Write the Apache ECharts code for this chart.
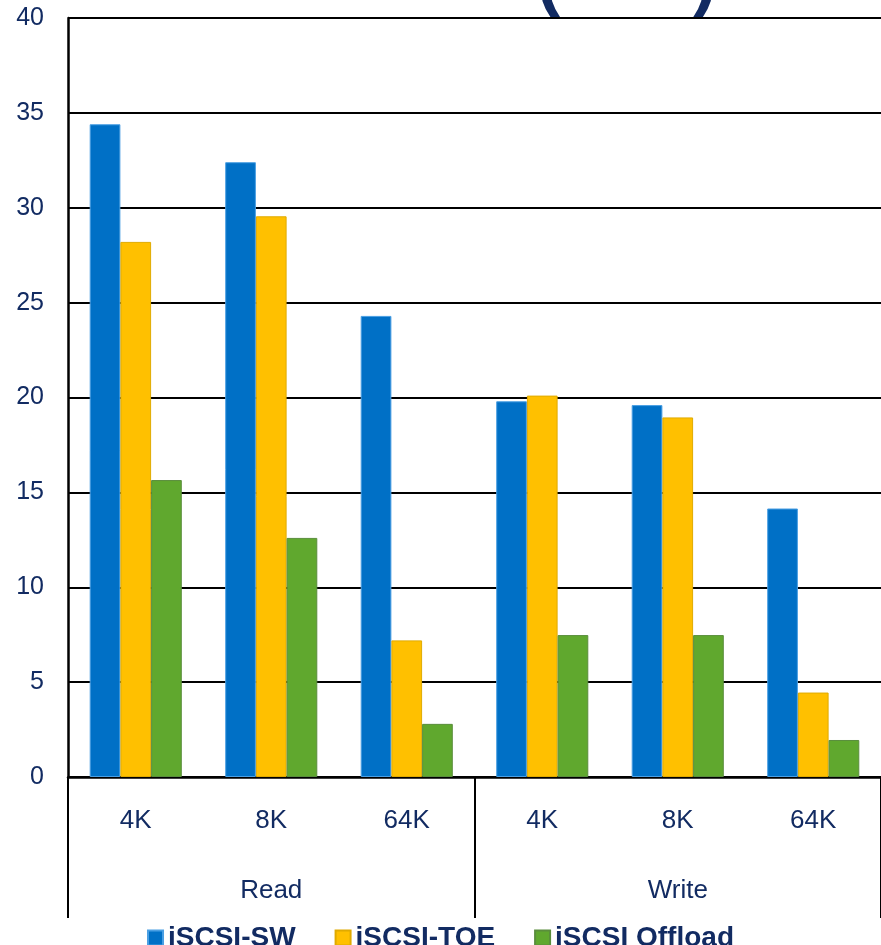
<!DOCTYPE html>
<html>
<head>
<meta charset="utf-8">
<script src="https://cdn.jsdelivr.net/npm/echarts@6/dist/echarts.min.js"></script>
<style>html,body{margin:0;padding:0;background:#fff;}#c{width:881px;height:945px;}</style>
</head>
<body>
<div id="c"></div>
<script>
var titleMain = 'CPU Utilization ';
var titleUnit = 'Linux';
var sizeLabels = ['4K', '8K', '64K', '4K', '8K', '64K'];
var groupLabels = ['Read', 'Write'];
var seriesNames = ['iSCSI-SW', 'iSCSI-TOE', 'iSCSI Offload'];
var swValues = [34.4, 32.4, 24.3, 19.8, 19.6, 14.15];
var toeValues = [28.2, 29.55, 7.2, 20.1, 18.95, 4.45];
var offloadValues = [15.65, 12.6, 2.8, 7.48, 7.48, 1.95];
var yTicks = { min: 0, max: 40, interval: 5 };

var navy = '#122B62';
var font = "'Liberation Sans', Arial, sans-serif";
var chart = echarts.init(document.getElementById('c'));
chart.setOption({
  animation: false,
  backgroundColor: '#fff',
  title: {
    text: '{t|' + titleMain + '}{p|(}{t|' + titleUnit + '}{p|)}',
    left: 'center', top: -52, padding: 0,
    textStyle: {
      fontFamily: font, fontSize: 50, fontWeight: 'bold', color: navy,
      rich: {
        t: { fontFamily: font, fontSize: 50, fontWeight: 'bold', color: navy },
        p: { fontFamily: font, fontSize: 70, fontWeight: 'bold', color: navy }
      }
    }
  },
  legend: {
    data: seriesNames, left: 'center', top: 924, padding: 0,
    itemWidth: 15, itemHeight: 15, itemGap: 39, icon: 'rect',
    textStyle: { fontFamily: font, fontSize: 28, fontWeight: 'bold', color: navy }
  },
  grid: { left: 68, right: 0, top: 18, bottom: 168, containLabel: false },
  xAxis: [
    {
      type: 'category', data: sizeLabels, position: 'bottom',
      axisLine: { show: true, lineStyle: { color: '#000', width: 2.5 } },
      axisTick: { show: false },
      axisLabel: { interval: 0, margin: 31, fontFamily: font, fontSize: 26, color: navy }
    },
    {
      type: 'category', data: groupLabels, position: 'bottom', gridIndex: 0,
      axisLine: { show: false },
      axisTick: { show: true, interval: 0, length: 141, lineStyle: { color: '#000', width: 2 } },
      axisLabel: { interval: 0, margin: 101, fontFamily: font, fontSize: 26, color: navy }
    }
  ],
  yAxis: {
    type: 'value', min: yTicks.min, max: yTicks.max, interval: yTicks.interval,
    axisLine: { show: true, lineStyle: { color: '#000', width: 2.5 } },
    axisTick: { show: false },
    splitLine: { show: true, lineStyle: { color: '#000', width: 2 } },
    axisLabel: { margin: 24, fontFamily: font, fontSize: 25, color: navy }
  },
  series: [
    { name: seriesNames[0], type: 'bar', data: swValues, barWidth: 30.7, barGap: '0%',
      itemStyle: { color: '#0070C6', borderColor: '#4A9FE3', borderWidth: 1 } },
    { name: seriesNames[1], type: 'bar', data: toeValues, barWidth: 30.7, barGap: '0%',
      itemStyle: { color: '#FFC000', borderColor: '#E0AA00', borderWidth: 1 } },
    { name: seriesNames[2], type: 'bar', data: offloadValues, barWidth: 30.7, barGap: '0%',
      itemStyle: { color: '#60A82E', borderColor: '#5A8E3C', borderWidth: 1 } }
  ]
});
</script>
</body>
</html>
